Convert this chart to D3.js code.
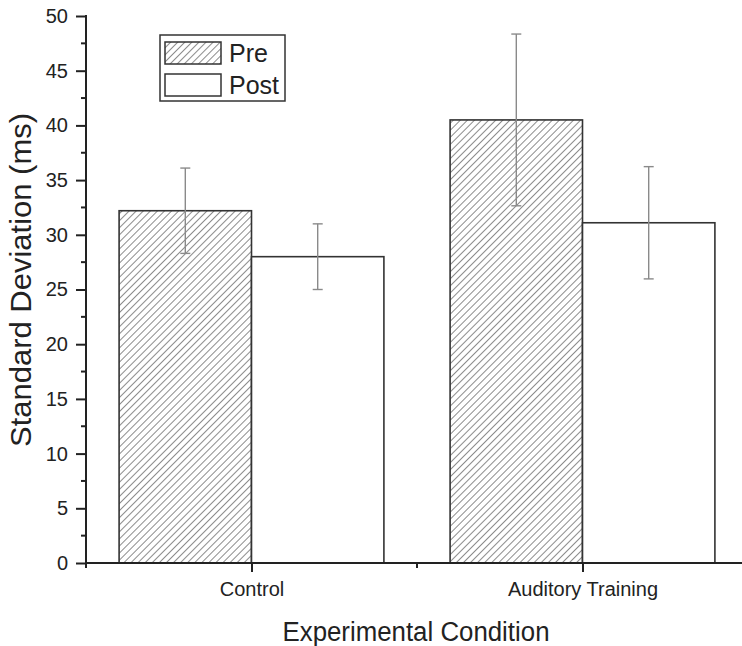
<!DOCTYPE html>
<html>
<head>
<meta charset="utf-8">
<script src="https://cdn.jsdelivr.net/npm/d3@7"></script>
<style>
  html, body { margin: 0; padding: 0; background: #fff; }
  svg { display: block; font-family: "Liberation Sans", Arial, sans-serif; }
</style>
</head>
<body>
<svg id="chart" width="742" height="646"></svg>
<script>
// Conditions on the x axis and the two series (Pre / Post), with their error bars
const categories = ["Control", "Auditory Training"];
const seriesNames = ["Pre", "Post"];
const preValues = [32.2, 40.5];
const postValues = [28.0, 31.1];
const preErrors = [3.9, 7.85];
const postErrors = [3.0, 5.13];
const yTicks = [0, 5, 10, 15, 20, 25, 30, 35, 40, 45, 50];
const yLabel = "Standard Deviation (ms)";
const xLabel = "Experimental Condition";

const svg = d3.select("#chart");
const W = 742, H = 646;

// Category i sits at x = i + 1; the axis spans 0.5 .. 2.5
const x = d3.scaleLinear().domain([0.5, 2.5]).range([86, 748]);
const y = d3.scaleLinear().domain([0, 50]).range([563, 16]);
const barW = 0.4; // in category units

const ink = "#222";

// Diagonal hatch for the Pre bars
const defs = svg.append("defs");
const pat = defs.append("pattern")
  .attr("id", "hatch")
  .attr("patternUnits", "userSpaceOnUse")
  .attr("width", 5).attr("height", 10)
  .attr("patternTransform", "rotate(45)");
pat.append("rect").attr("width", 5).attr("height", 10).attr("fill", "#fff");
pat.append("line")
  .attr("x1", 0.5).attr("y1", 0).attr("x2", 0.5).attr("y2", 10)
  .attr("stroke", "#8c8c8c").attr("stroke-width", 1);

const rows = categories.map((c, i) => ({
  cat: c, pos: i + 1,
  bars: [
    { key: "Pre", value: preValues[i], err: preErrors[i], x0: i + 1 - barW, x1: i + 1 },
    { key: "Post", value: postValues[i], err: postErrors[i], x0: i + 1, x1: i + 1 + barW }
  ]
}));
const allBars = rows.flatMap(r => r.bars);

// Bars
svg.append("g").selectAll("rect")
  .data(allBars)
  .join("rect")
  .attr("x", d => x(d.x0))
  .attr("y", d => y(d.value))
  .attr("width", d => x(d.x1) - x(d.x0))
  .attr("height", d => y(0) - y(d.value))
  .attr("fill", d => d.key === "Pre" ? "url(#hatch)" : "#fff")
  .attr("stroke", "#333")
  .attr("stroke-width", 1.6);

// Error bars
const eb = svg.append("g")
  .attr("stroke", "#8a8a8a")
  .attr("stroke-width", 1.4)
  .selectAll("g")
  .data(allBars)
  .join("g");
eb.append("line")
  .attr("x1", d => x((d.x0 + d.x1) / 2)).attr("x2", d => x((d.x0 + d.x1) / 2))
  .attr("y1", d => y(d.value + d.err)).attr("y2", d => y(d.value - d.err));
eb.append("line")
  .attr("x1", d => x((d.x0 + d.x1) / 2) - 5).attr("x2", d => x((d.x0 + d.x1) / 2) + 5)
  .attr("y1", d => y(d.value + d.err)).attr("y2", d => y(d.value + d.err));
eb.append("line")
  .attr("x1", d => x((d.x0 + d.x1) / 2) - 5).attr("x2", d => x((d.x0 + d.x1) / 2) + 5)
  .attr("y1", d => y(d.value - d.err)).attr("y2", d => y(d.value - d.err));

// Y axis: major ticks with labels, minor ticks in between
const yAxis = svg.append("g")
  .attr("transform", `translate(${x(0.5)},0)`)
  .call(d3.axisLeft(y).tickValues(yTicks).tickSize(10).tickPadding(8).tickFormat(d3.format("d")));
yAxis.select(".domain").remove();
yAxis.selectAll(".tick line").attr("stroke", ink).attr("stroke-width", 2);
yAxis.selectAll(".tick text")
  .attr("font-size", 20).attr("fill", ink)
  .attr("font-family", "Liberation Sans, Arial, sans-serif");
const yMinor = d3.range(2.5, 50, 5);
svg.append("g").selectAll("line")
  .data(yMinor)
  .join("line")
  .attr("x1", x(0.5) - 5).attr("x2", x(0.5))
  .attr("y1", d => y(d)).attr("y2", d => y(d))
  .attr("stroke", ink).attr("stroke-width", 2);
svg.append("line")
  .attr("x1", x(0.5)).attr("x2", x(0.5))
  .attr("y1", y(50) - 1).attr("y2", y(0))
  .attr("stroke", ink).attr("stroke-width", 2);

// X axis: category ticks and half-step minor ticks
const xAxis = svg.append("g")
  .attr("transform", `translate(0,${y(0)})`)
  .call(d3.axisBottom(x).tickValues(rows.map(r => r.pos)).tickSize(9).tickPadding(10)
    .tickFormat((d, i) => categories[i]));
xAxis.select(".domain").remove();
xAxis.selectAll(".tick line").attr("stroke", ink).attr("stroke-width", 2);
xAxis.selectAll(".tick text")
  .attr("font-size", 20).attr("fill", ink)
  .attr("font-family", "Liberation Sans, Arial, sans-serif");
svg.append("g").selectAll("line")
  .data([0.5, 1.5, 2.5])
  .join("line")
  .attr("x1", d => x(d)).attr("x2", d => x(d))
  .attr("y1", y(0)).attr("y2", y(0) + 5)
  .attr("stroke", ink).attr("stroke-width", 2);
svg.append("line")
  .attr("x1", x(0.5) - 1).attr("x2", W)
  .attr("y1", y(0)).attr("y2", y(0))
  .attr("stroke", ink).attr("stroke-width", 2);

// Axis titles
svg.append("text")
  .attr("x", 416).attr("y", 641)
  .attr("text-anchor", "middle")
  .attr("font-size", 27).attr("fill", ink)
  .attr("textLength", 267).attr("lengthAdjust", "spacingAndGlyphs")
  .text(xLabel);
svg.append("text")
  .attr("transform", "translate(31,280) rotate(-90)")
  .attr("text-anchor", "middle")
  .attr("font-size", 30).attr("fill", ink)
  .attr("textLength", 334).attr("lengthAdjust", "spacingAndGlyphs")
  .text(yLabel);

// Legend
const lg = svg.append("g");
lg.append("rect")
  .attr("x", 160).attr("y", 35).attr("width", 125).attr("height", 66)
  .attr("fill", "#fff").attr("stroke", "#333").attr("stroke-width", 1.5);
const items = lg.selectAll("g.item")
  .data(seriesNames)
  .join("g").attr("class", "item")
  .attr("transform", (d, i) => `translate(0,${i * 32})`);
items.append("rect")
  .attr("x", 165).attr("y", 42).attr("width", 56).attr("height", 22)
  .attr("fill", d => d === "Pre" ? "url(#hatch)" : "#fff")
  .attr("stroke", "#333").attr("stroke-width", 1.5);
items.append("text")
  .attr("x", 229).attr("y", 62)
  .attr("font-size", 25).attr("fill", ink)
  .text(d => d);
</script>
</body>
</html>
